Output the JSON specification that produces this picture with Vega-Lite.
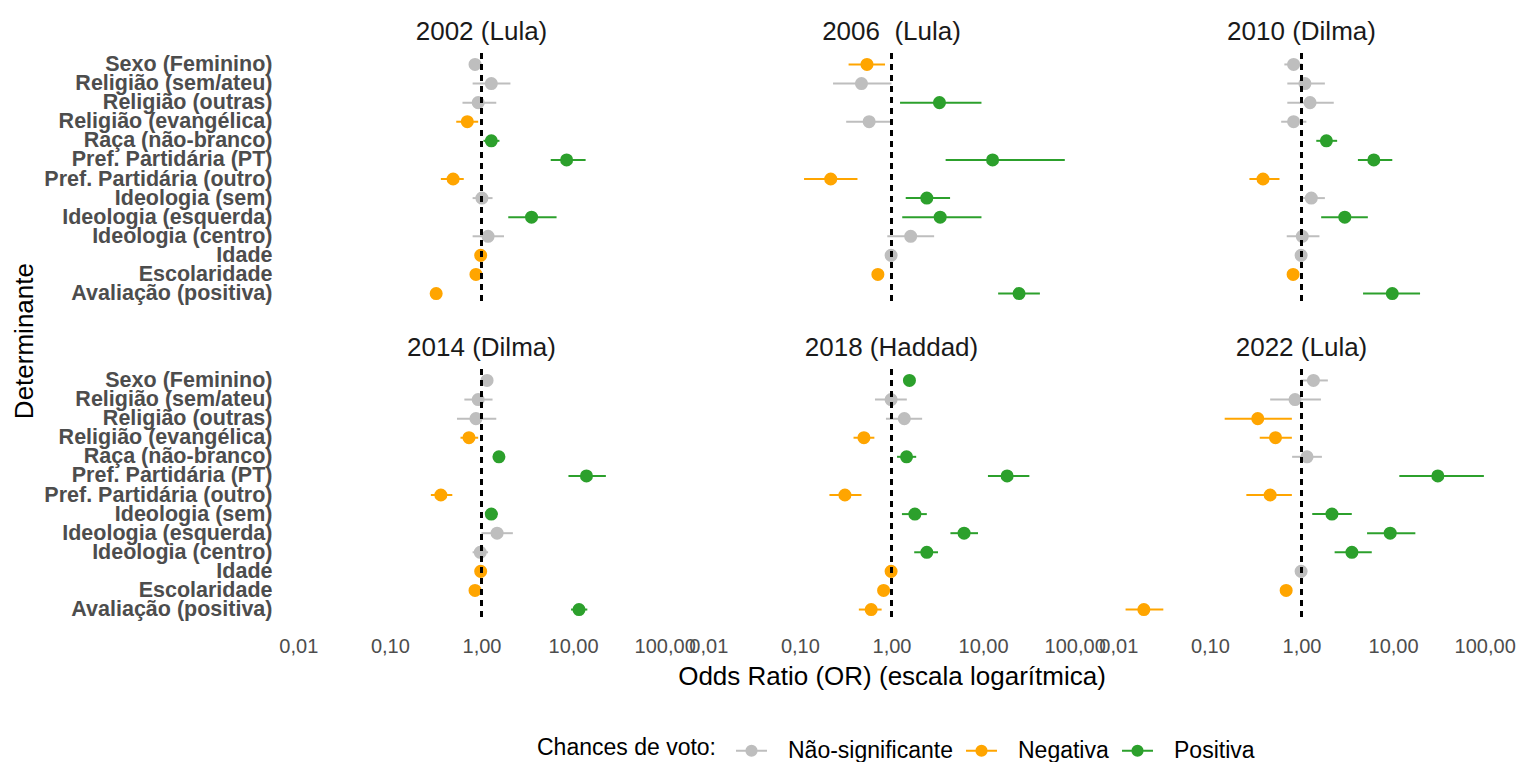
{
  "$schema": "https://vega.github.io/schema/vega-lite/v6.json",
  "background": "white",
  "padding": {"left": 11, "top": 19, "right": 10, "bottom": 0},
  "config": {
    "font": "Liberation Sans",
    "view": {"stroke": null},
    "axis": {"grid": false, "ticks": false, "domain": false}
  },
  "title": {"text": "Determinante", "orient": "left", "anchor": "middle", "fontSize": 26, "fontWeight": "normal", "color": "black", "offset": 6, "dx": 50},
  "datasets": {
    "or": [
      {"painel": "2002 (Lula)", "det": "Sexo (Feminino)", "or": 0.85, "lo": 0.75, "hi": 1.0, "sig": "Não-significante"},
      {"painel": "2002 (Lula)", "det": "Religião (sem/ateu)", "or": 1.28, "lo": 0.80, "hi": 2.07, "sig": "Não-significante"},
      {"painel": "2002 (Lula)", "det": "Religião (outras)", "or": 0.92, "lo": 0.62, "hi": 1.45, "sig": "Não-significante"},
      {"painel": "2002 (Lula)", "det": "Religião (evangélica)", "or": 0.70, "lo": 0.53, "hi": 0.92, "sig": "Negativa"},
      {"painel": "2002 (Lula)", "det": "Raça (não-branco)", "or": 1.28, "lo": 1.05, "hi": 1.57, "sig": "Positiva"},
      {"painel": "2002 (Lula)", "det": "Pref. Partidária (PT)", "or": 8.5, "lo": 5.7, "hi": 13.7, "sig": "Positiva"},
      {"painel": "2002 (Lula)", "det": "Pref. Partidária (outro)", "or": 0.49, "lo": 0.36, "hi": 0.64, "sig": "Negativa"},
      {"painel": "2002 (Lula)", "det": "Ideologia (sem)", "or": 1.01, "lo": 0.80, "hi": 1.32, "sig": "Não-significante"},
      {"painel": "2002 (Lula)", "det": "Ideologia (esquerda)", "or": 3.52, "lo": 1.96, "hi": 6.6, "sig": "Positiva"},
      {"painel": "2002 (Lula)", "det": "Ideologia (centro)", "or": 1.18, "lo": 0.80, "hi": 1.76, "sig": "Não-significante"},
      {"painel": "2002 (Lula)", "det": "Idade", "or": 0.98, "lo": 0.97, "hi": 0.99, "sig": "Negativa"},
      {"painel": "2002 (Lula)", "det": "Escolaridade", "or": 0.87, "lo": 0.83, "hi": 0.92, "sig": "Negativa"},
      {"painel": "2002 (Lula)", "det": "Avaliação (positiva)", "or": 0.32, "lo": 0.28, "hi": 0.37, "sig": "Negativa"},

      {"painel": "2006\u00a0 (Lula)", "det": "Sexo (Feminino)", "or": 0.54, "lo": 0.34, "hi": 0.85, "sig": "Negativa"},
      {"painel": "2006\u00a0 (Lula)", "det": "Religião (sem/ateu)", "or": 0.47, "lo": 0.23, "hi": 1.0, "sig": "Não-significante"},
      {"painel": "2006\u00a0 (Lula)", "det": "Religião (outras)", "or": 3.34, "lo": 1.24, "hi": 9.6, "sig": "Positiva"},
      {"painel": "2006\u00a0 (Lula)", "det": "Religião (evangélica)", "or": 0.57, "lo": 0.32, "hi": 1.02, "sig": "Não-significante"},
      {"painel": "2006\u00a0 (Lula)", "det": "Pref. Partidária (PT)", "or": 12.7, "lo": 3.9, "hi": 78, "sig": "Positiva"},
      {"painel": "2006\u00a0 (Lula)", "det": "Pref. Partidária (outro)", "or": 0.217, "lo": 0.111, "hi": 0.425, "sig": "Negativa"},
      {"painel": "2006\u00a0 (Lula)", "det": "Ideologia (sem)", "or": 2.43, "lo": 1.43, "hi": 4.36, "sig": "Positiva"},
      {"painel": "2006\u00a0 (Lula)", "det": "Ideologia (esquerda)", "or": 3.4, "lo": 1.31, "hi": 9.6, "sig": "Positiva"},
      {"painel": "2006\u00a0 (Lula)", "det": "Ideologia (centro)", "or": 1.62, "lo": 0.90, "hi": 2.92, "sig": "Não-significante"},
      {"painel": "2006\u00a0 (Lula)", "det": "Idade", "or": 0.99, "lo": 0.97, "hi": 1.01, "sig": "Não-significante"},
      {"painel": "2006\u00a0 (Lula)", "det": "Escolaridade", "or": 0.71, "lo": 0.68, "hi": 0.75, "sig": "Negativa"},
      {"painel": "2006\u00a0 (Lula)", "det": "Avaliação (positiva)", "or": 24.7, "lo": 14.6, "hi": 41.7, "sig": "Positiva"},

      {"painel": "2010 (Dilma)", "det": "Sexo (Feminino)", "or": 0.82, "lo": 0.65, "hi": 1.02, "sig": "Não-significante"},
      {"painel": "2010 (Dilma)", "det": "Religião (sem/ateu)", "or": 1.09, "lo": 0.70, "hi": 1.80, "sig": "Não-significante"},
      {"painel": "2010 (Dilma)", "det": "Religião (outras)", "or": 1.24, "lo": 0.70, "hi": 2.25, "sig": "Não-significante"},
      {"painel": "2010 (Dilma)", "det": "Religião (evangélica)", "or": 0.82, "lo": 0.60, "hi": 1.13, "sig": "Não-significante"},
      {"painel": "2010 (Dilma)", "det": "Raça (não-branco)", "or": 1.87, "lo": 1.45, "hi": 2.45, "sig": "Positiva"},
      {"painel": "2010 (Dilma)", "det": "Pref. Partidária (PT)", "or": 6.16, "lo": 4.13, "hi": 9.8, "sig": "Positiva"},
      {"painel": "2010 (Dilma)", "det": "Pref. Partidária (outro)", "or": 0.38, "lo": 0.27, "hi": 0.575, "sig": "Negativa"},
      {"painel": "2010 (Dilma)", "det": "Ideologia (sem)", "or": 1.28, "lo": 0.98, "hi": 1.80, "sig": "Não-significante"},
      {"painel": "2010 (Dilma)", "det": "Ideologia (esquerda)", "or": 2.97, "lo": 1.64, "hi": 5.3, "sig": "Positiva"},
      {"painel": "2010 (Dilma)", "det": "Ideologia (centro)", "or": 1.02, "lo": 0.69, "hi": 1.57, "sig": "Não-significante"},
      {"painel": "2010 (Dilma)", "det": "Idade", "or": 0.99, "lo": 0.97, "hi": 1.01, "sig": "Não-significante"},
      {"painel": "2010 (Dilma)", "det": "Escolaridade", "or": 0.81, "lo": 0.77, "hi": 0.85, "sig": "Negativa"},
      {"painel": "2010 (Dilma)", "det": "Avaliação (positiva)", "or": 9.8, "lo": 4.7, "hi": 19.7, "sig": "Positiva"},

      {"painel": "2014 (Dilma)", "det": "Sexo (Feminino)", "or": 1.15, "lo": 1.0, "hi": 1.3, "sig": "Não-significante"},
      {"painel": "2014 (Dilma)", "det": "Religião (sem/ateu)", "or": 0.92, "lo": 0.65, "hi": 1.32, "sig": "Não-significante"},
      {"painel": "2014 (Dilma)", "det": "Religião (outras)", "or": 0.87, "lo": 0.54, "hi": 1.45, "sig": "Não-significante"},
      {"painel": "2014 (Dilma)", "det": "Religião (evangélica)", "or": 0.73, "lo": 0.59, "hi": 0.92, "sig": "Negativa"},
      {"painel": "2014 (Dilma)", "det": "Raça (não-branco)", "or": 1.55, "lo": 1.35, "hi": 1.78, "sig": "Positiva"},
      {"painel": "2014 (Dilma)", "det": "Pref. Partidária (PT)", "or": 14.0, "lo": 8.9, "hi": 22.8, "sig": "Positiva"},
      {"painel": "2014 (Dilma)", "det": "Pref. Partidária (outro)", "or": 0.36, "lo": 0.28, "hi": 0.48, "sig": "Negativa"},
      {"painel": "2014 (Dilma)", "det": "Ideologia (sem)", "or": 1.28, "lo": 1.1, "hi": 1.5, "sig": "Positiva"},
      {"painel": "2014 (Dilma)", "det": "Ideologia (esquerda)", "or": 1.48, "lo": 1.0, "hi": 2.2, "sig": "Não-significante"},
      {"painel": "2014 (Dilma)", "det": "Ideologia (centro)", "or": 0.97, "lo": 0.8, "hi": 1.18, "sig": "Não-significante"},
      {"painel": "2014 (Dilma)", "det": "Idade", "or": 0.98, "lo": 0.97, "hi": 0.99, "sig": "Negativa"},
      {"painel": "2014 (Dilma)", "det": "Escolaridade", "or": 0.85, "lo": 0.81, "hi": 0.89, "sig": "Negativa"},
      {"painel": "2014 (Dilma)", "det": "Avaliação (positiva)", "or": 11.6, "lo": 9.5, "hi": 14.3, "sig": "Positiva"},

      {"painel": "2018 (Haddad)", "det": "Sexo (Feminino)", "or": 1.57, "lo": 1.38, "hi": 1.8, "sig": "Positiva"},
      {"painel": "2018 (Haddad)", "det": "Religião (sem/ateu)", "or": 0.99, "lo": 0.66, "hi": 1.47, "sig": "Não-significante"},
      {"painel": "2018 (Haddad)", "det": "Religião (outras)", "or": 1.38, "lo": 0.87, "hi": 2.16, "sig": "Não-significante"},
      {"painel": "2018 (Haddad)", "det": "Religião (evangélica)", "or": 0.50, "lo": 0.385, "hi": 0.65, "sig": "Negativa"},
      {"painel": "2018 (Haddad)", "det": "Raça (não-branco)", "or": 1.46, "lo": 1.15, "hi": 1.86, "sig": "Positiva"},
      {"painel": "2018 (Haddad)", "det": "Pref. Partidária (PT)", "or": 18.3, "lo": 11.3, "hi": 32, "sig": "Positiva"},
      {"painel": "2018 (Haddad)", "det": "Pref. Partidária (outro)", "or": 0.31, "lo": 0.21, "hi": 0.47, "sig": "Negativa"},
      {"painel": "2018 (Haddad)", "det": "Ideologia (sem)", "or": 1.80, "lo": 1.30, "hi": 2.43, "sig": "Positiva"},
      {"painel": "2018 (Haddad)", "det": "Ideologia (esquerda)", "or": 6.2, "lo": 4.4, "hi": 8.8, "sig": "Positiva"},
      {"painel": "2018 (Haddad)", "det": "Ideologia (centro)", "or": 2.43, "lo": 1.77, "hi": 3.22, "sig": "Positiva"},
      {"painel": "2018 (Haddad)", "det": "Idade", "or": 0.99, "lo": 0.98, "hi": 1.0, "sig": "Negativa"},
      {"painel": "2018 (Haddad)", "det": "Escolaridade", "or": 0.82, "lo": 0.78, "hi": 0.86, "sig": "Negativa"},
      {"painel": "2018 (Haddad)", "det": "Avaliação (positiva)", "or": 0.60, "lo": 0.44, "hi": 0.78, "sig": "Negativa"},

      {"painel": "2022 (Lula)", "det": "Sexo (Feminino)", "or": 1.35, "lo": 0.98, "hi": 1.94, "sig": "Não-significante"},
      {"painel": "2022 (Lula)", "det": "Religião (sem/ateu)", "or": 0.85, "lo": 0.455, "hi": 1.63, "sig": "Não-significante"},
      {"painel": "2022 (Lula)", "det": "Religião (outras)", "or": 0.333, "lo": 0.145, "hi": 0.785, "sig": "Negativa"},
      {"painel": "2022 (Lula)", "det": "Religião (evangélica)", "or": 0.52, "lo": 0.35, "hi": 0.785, "sig": "Negativa"},
      {"painel": "2022 (Lula)", "det": "Raça (não-branco)", "or": 1.15, "lo": 0.79, "hi": 1.67, "sig": "Não-significante"},
      {"painel": "2022 (Lula)", "det": "Pref. Partidária (PT)", "or": 30.8, "lo": 11.7, "hi": 98, "sig": "Positiva"},
      {"painel": "2022 (Lula)", "det": "Pref. Partidária (outro)", "or": 0.455, "lo": 0.25, "hi": 0.785, "sig": "Negativa"},
      {"painel": "2022 (Lula)", "det": "Ideologia (sem)", "or": 2.15, "lo": 1.31, "hi": 3.54, "sig": "Positiva"},
      {"painel": "2022 (Lula)", "det": "Ideologia (esquerda)", "or": 9.3, "lo": 5.2, "hi": 17.5, "sig": "Positiva"},
      {"painel": "2022 (Lula)", "det": "Ideologia (centro)", "or": 3.55, "lo": 2.3, "hi": 5.85, "sig": "Positiva"},
      {"painel": "2022 (Lula)", "det": "Idade", "or": 0.99, "lo": 0.97, "hi": 1.01, "sig": "Não-significante"},
      {"painel": "2022 (Lula)", "det": "Escolaridade", "or": 0.68, "lo": 0.64, "hi": 0.72, "sig": "Negativa"},
      {"painel": "2022 (Lula)", "det": "Avaliação (positiva)", "or": 0.019, "lo": 0.012, "hi": 0.031, "sig": "Negativa"}
    ]
  },
  "data": {"name": "or"},
  "columns": 3,
  "spacing": {"row": 29, "column": 7},
  "facet": {
    "field": "painel",
    "type": "nominal",
    "sort": ["2002 (Lula)", "2006\u00a0 (Lula)", "2010 (Dilma)", "2014 (Dilma)", "2018 (Haddad)", "2022 (Lula)"],
    "header": {
      "title": "Odds Ratio (OR) (escala logarítmica)",
      "titleOrient": "bottom",
      "titleFontSize": 26,
      "titleFontWeight": "normal",
      "titleColor": "black",
      "titlePadding": 7.5,
      "labelFontSize": 26,
      "labelColor": "#1A1A1A",
      "labelBaseline": "middle",
      "labelPadding": -6
    }
  },
  "spec": {
    "width": 403,
    "height": 252,
    "layer": [
      {
        "mark": {"type": "rule", "strokeWidth": 2},
        "encoding": {
          "x": {
            "field": "lo", "type": "quantitative",
            "scale": {"type": "log", "domain": [0.00631, 158.5], "nice": false, "zero": false},
            "axis": {
              "title": null,
              "values": [0.01, 0.1, 1, 10, 100],
              "labelExpr": "replace(format(datum.value, '.2f'), '.', ',')",
              "labelFontSize": 20,
              "labelColor": "#4D4D4D",
              "labelPadding": 14,
              "labelFlush": false,
              "labelOverlap": false
            }
          },
          "x2": {"field": "hi"},
          "y": {
            "field": "det", "type": "nominal",
            "scale": {
              "type": "point", "padding": 0.6,
              "domain": ["Sexo (Feminino)", "Religião (sem/ateu)", "Religião (outras)", "Religião (evangélica)", "Raça (não-branco)", "Pref. Partidária (PT)", "Pref. Partidária (outro)", "Ideologia (sem)", "Ideologia (esquerda)", "Ideologia (centro)", "Idade", "Escolaridade", "Avaliação (positiva)"]
            },
            "axis": {
              "title": null,
              "labelFontSize": 21.5,
              "labelFontWeight": "bold",
              "labelColor": "#4D4D4D",
              "labelPadding": 8,
              "labelLimit": 400,
              "labelOverlap": false
            }
          },
          "color": {
            "field": "sig", "type": "nominal",
            "scale": {"domain": ["Não-significante", "Negativa", "Positiva"], "range": ["#BEBEBE", "#FFA500", "#2CA02C"]},
            "legend": {
              "title": "Chances de voto:",
              "orient": "none",
              "direction": "horizontal",
              "titleOrient": "left",
              "legendX": 257,
              "legendY": 681,
              "titleFontSize": 23,
              "titleFontWeight": "normal",
              "titleColor": "black",
              "titlePadding": 18,
              "labelFontSize": 23,
              "labelColor": "black",
              "labelLimit": 300,
              "labelOffset": 20,
              "columnPadding": 9,
              "symbolType": "M-1,0H1M-0.33,0A0.33,0.33,0,1,1,0.33,0A0.33,0.33,0,1,1,-0.33,0Z",
              "symbolSize": 960,
              "symbolStrokeWidth": 2,
              "encode": {"symbols": {"update": {"stroke": {"scale": "color", "field": "value"}, "fill": {"scale": "color", "field": "value"}, "opacity": {"value": 1}}}}
            }
          }
        }
      },
      {
        "mark": {"type": "point", "filled": true, "size": 170, "opacity": 1},
        "encoding": {
          "x": {"field": "or", "type": "quantitative"},
          "y": {"field": "det", "type": "nominal"},
          "color": {"field": "sig", "type": "nominal"}
        }
      },
      {
        "mark": {"type": "rule", "strokeDash": [6, 5], "color": "black", "strokeWidth": 1.6},
        "encoding": {"x": {"datum": 1}}
      }
    ]
  }
}
